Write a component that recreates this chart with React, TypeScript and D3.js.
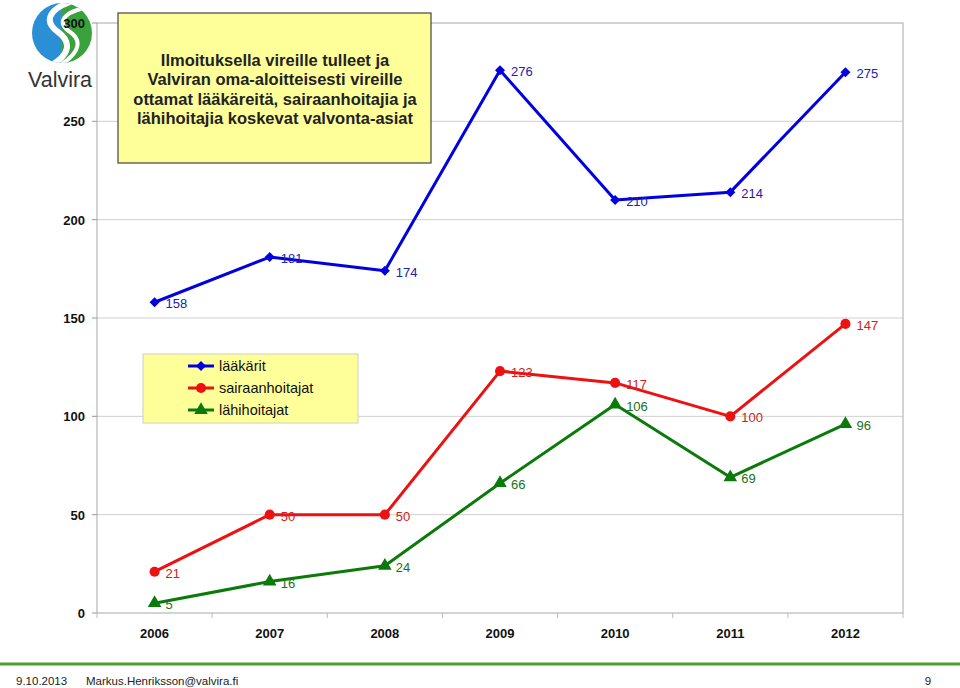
import React from "react";
import * as d3 from "d3";

const years = ["2006", "2007", "2008", "2009", "2010", "2011", "2012"];
const laakarit = [158, 181, 174, 276, 210, 214, 275];
const sairaanhoitajat = [21, 50, 50, 123, 117, 100, 147];
const lahihoitajat = [5, 16, 24, 66, 106, 69, 96];
const yTicks = [0, 50, 100, 150, 200, 250, 300];
const seriesNames = ["lääkärit", "sairaanhoitajat", "lähihoitajat"];
const titleLines = [
  "Ilmoituksella vireille tulleet ja",
  "Valviran oma-aloitteisesti vireille",
  "ottamat lääkäreitä, sairaanhoitajia ja",
  "lähihoitajia koskevat valvonta-asiat",
];

const W = 960;
const H = 688;
const left = 97;
const right = 903;
const top = 23;
const bottom = 613;

export default function App() {
  const x = d3.scaleBand<string>().domain(years).range([left, right]);
  const y = d3.scaleLinear().domain([0, 300]).range([bottom, top]);
  const cx = (d: string) => (x(d) as number) + x.bandwidth() / 2;

  const series = [
    { name: seriesNames[0], values: laakarit, color: "#0000e0", text: "#2020b0", sym: d3.symbolSquare, size: 50, rot: 45 },
    { name: seriesNames[1], values: sairaanhoitajat, color: "#ee1111", text: "#d02020", sym: d3.symbolCircle, size: 80, rot: 0 },
    { name: seriesNames[2], values: lahihoitajat, color: "#0a7a0a", text: "#1a701a", sym: d3.symbolTriangle, size: 80, rot: 0 },
  ];

  const line = d3
    .line<number>()
    .x((_, i) => cx(years[i]))
    .y((v) => y(v));

  const font = "Liberation Sans, Arial, sans-serif";

  return (
    <svg
      width={W}
      height={H}
      style={{ position: "absolute", left: 0, top: 0, background: "#fff" }}
      fontFamily={font}
    >
      {/* gridlines */}
      {yTicks.filter((t) => t > 0 && t < 300).map((t) => (
        <line key={t} x1={left} x2={right} y1={y(t)} y2={y(t)} stroke="#cfcfcf" strokeWidth={1} />
      ))}
      {/* plot border */}
      <rect x={left} y={top} width={right - left} height={bottom - top} fill="none" stroke="#a8a8a8" strokeWidth={1} />
      {/* y ticks */}
      {yTicks.map((t) => (
        <g key={t}>
          <line x1={left - 5} x2={left} y1={y(t)} y2={y(t)} stroke="#999" />
        </g>
      ))}
      {/* x ticks */}
      {d3.range(years.length + 1).map((i) => {
        const xx = left + i * x.bandwidth();
        return <line key={i} x1={xx} x2={xx} y1={bottom} y2={bottom + 5} stroke="#bbb" />;
      })}
      {years.map((yr) => (
        <text key={yr} x={cx(yr)} y={bottom + 25} textAnchor="middle" fontSize={13} fontWeight="bold" fill="#111">
          {yr}
        </text>
      ))}

      {/* logo */}
      <defs>
        <clipPath id="logoClip">
          <circle cx={62} cy={33} r={30} />
        </clipPath>
      </defs>
      <g clipPath="url(#logoClip)">
        <rect x={30} y={0} width={32} height={66} fill="#2b8fd6" />
        <rect x={62} y={0} width={32} height={66} fill="#3aa23c" />
        <path d="M70,2 C48,10 44,22 58,32 C72,42 70,55 50,66" fill="none" stroke="#fff" strokeWidth={6} />
        <path d="M84,8 C60,14 58,24 70,32 C82,40 80,52 62,64" fill="none" stroke="#fff" strokeWidth={4} />
      </g>
      <text x={60} y={87} textAnchor="middle" fontSize={22} fill="#333" textLength={64} lengthAdjust="spacingAndGlyphs">
        Valvira
      </text>

      {/* y labels */}
      {yTicks.map((t) => (
        <text key={t} x={85} y={y(t) + 5} textAnchor="end" fontSize={13} fontWeight="bold" fill="#111">
          {t}
        </text>
      ))}

      {/* series */}
      {series.map((s) => (
        <g key={s.name}>
          <path d={line(s.values) as string} fill="none" stroke={s.color} strokeWidth={3} strokeLinejoin="round" />
          {s.values.map((v, i) => (
            <path
              key={i}
              transform={`translate(${cx(years[i])},${y(v)}) rotate(${s.rot})`}
              d={d3.symbol().type(s.sym).size(s.size)() as string}
              fill={s.color}
            />
          ))}
          {s.values.map((v, i) => (
            <text key={"l" + i} x={cx(years[i]) + 11} y={y(v) + 6} fontSize={13} fill={s.text}>
              {v}
            </text>
          ))}
        </g>
      ))}

      {/* title box */}
      <rect x={118} y={13} width={313} height={150} fill="#ffff99" stroke="#444" strokeWidth={1.2} />
      {titleLines.map((l, i) => (
        <text key={i} x={275} y={66 + i * 19.3} textAnchor="middle" fontSize={16.5} fontWeight="bold" fill="#222">
          {l}
        </text>
      ))}

      {/* legend */}
      <rect x={143} y={354} width={215} height={69} fill="#ffff99" stroke="#d0d0c0" strokeWidth={1} />
      {series.map((s, i) => {
        const ly = 366 + i * 22;
        return (
          <g key={s.name}>
            <line x1={188} x2={214} y1={ly} y2={ly} stroke={s.color} strokeWidth={3} />
            <path
              transform={`translate(201,${ly}) rotate(${s.rot})`}
              d={d3.symbol().type(s.sym).size(s.size)() as string}
              fill={s.color}
            />
            <text x={219} y={ly + 5} fontSize={14.5} fill="#111">
              {s.name}
            </text>
          </g>
        );
      })}

      {/* footer */}
      <line x1={0} x2={W} y1={664} y2={664} stroke="#4aa02c" strokeWidth={3} />
      <text x={16} y={685} fontSize={11.5} fill="#222">
        9.10.2013
      </text>
      <text x={86} y={685} fontSize={11.5} fill="#222">
        Markus.Henriksson@valvira.fi
      </text>
      <text x={928} y={685} fontSize={11.5} textAnchor="middle" fill="#222">
        9
      </text>
    </svg>
  );
}
